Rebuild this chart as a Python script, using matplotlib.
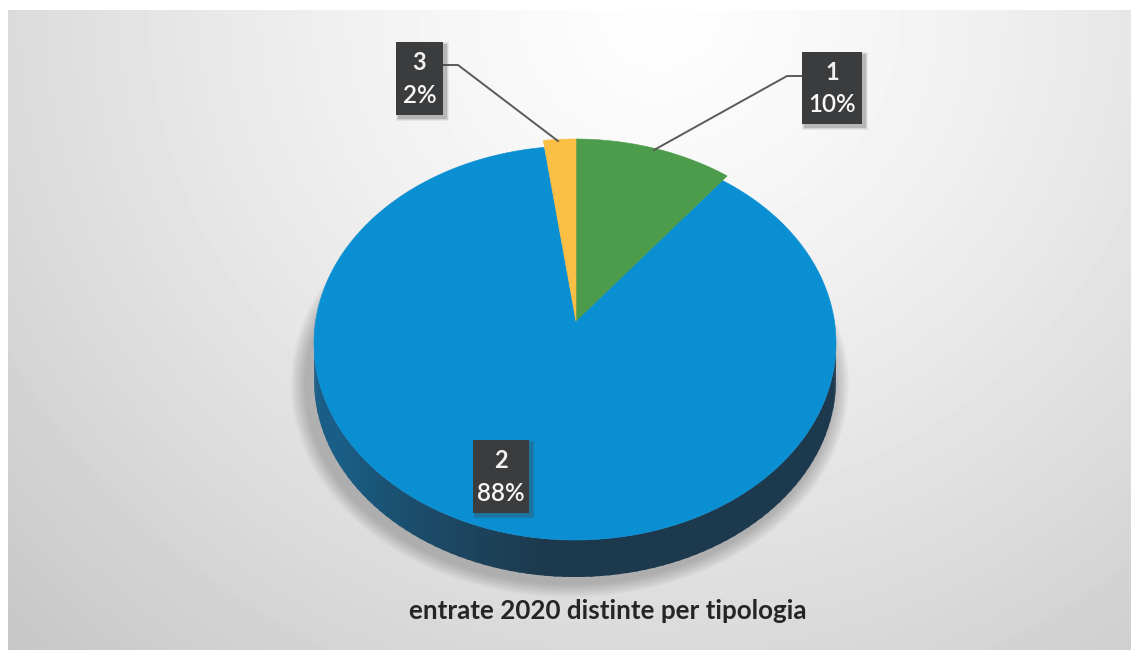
import numpy as np
import matplotlib
matplotlib.use("Agg")
import matplotlib.pyplot as plt
from matplotlib.patches import Rectangle

labels = ["1", "2", "3"]
shares = [10, 88, 2]
colors = ["#4c9c4c", "#0b8fd3", "#fcbf45"]
title = "entrate 2020 distinte per tipologia"

W, H = 1131, 658
fig = plt.figure(figsize=(W/100, H/100), dpi=100, facecolor="white")
ax = fig.add_axes([0, 0, 1, 1])

# background panel: near white at top centre, greyer towards left, right and bottom
ny, nx = 160, 280
yy, xx = np.mgrid[0:1:ny*1j, 0:1:nx*1j]
r = np.sqrt(((xx-0.58)/0.62)**2 + ((yy-0.0)/1.05)**2)
v = np.clip(0.995 - 0.15*r**1.3, 0, 1)
ax.imshow(v, extent=(8, 1131, 650, 10), cmap="gray", vmin=0, vmax=1, aspect="auto",
          interpolation="bilinear", zorder=0)
ax.set_xlim(0, W); ax.set_ylim(H, 0); ax.axis("off")

cx, cy, rx, ry = 575, 343, 261, 197     # outline of the tilted disc
ax0, ay0 = 576, 321                     # apex, displaced by perspective
top_span = 182
depth = 37
lift = 7                                # small slices are pulled out slightly

# soft shadow, low and to the left
for i in range(12):
    g = 1 - i/12
    e = np.linspace(0, 2*np.pi, 200)
    ax.fill(cx-5 + (rx+3+15*g)*np.cos(e), cy+depth+4 + (ry+2+14*g)*np.sin(e),
            color="#555555", alpha=0.03, lw=0, zorder=1)

# side wall
n = 90
for i in range(n):
    a0, a1 = np.pi*i/n, np.pi*(i+1)/n+0.012
    t = np.linspace(a0, a1, 5)
    px = np.r_[cx+rx*np.cos(t), (cx+rx*np.cos(t))[::-1]]
    py = np.r_[cy+ry*np.sin(t), (cy+depth+ry*np.sin(t))[::-1]]
    m = (a0+a1)/2
    f = np.clip((m-1.7)/1.0, 0, 1)
    col = np.array([0.115, 0.225, 0.300])*(1-f) + np.array([0.10, 0.37, 0.53])*f
    ax.fill(px, py, color=col, lw=0, zorder=2)

def rim_point(theta, up):
    """Where the ray from the apex at pie angle theta (clockwise from 12 o'clock) meets the rim."""
    dx, dy = rx*np.sin(theta), -top_span*np.cos(theta)
    ox, oy = (ax0-cx)/rx, (ay0-(cy-up))/ry
    ux, uy = dx/rx, dy/ry
    a = ux*ux+uy*uy; b = 2*(ox*ux+oy*uy); c = ox*ox+oy*oy-1
    s = (-b+np.sqrt(b*b-4*a*c))/(2*a)
    return ax0+s*dx, ay0+s*dy

# top pie slices, clockwise from 12 o'clock; largest drawn first so the pulled slices overlap it
angles = np.cumsum([0] + shares) * 3.6
for idx in (1, 0, 2):
    col = colors[idx]
    up = 0 if idx == 1 else lift
    t = np.radians(np.linspace(angles[idx], angles[idx+1], 300))
    pts = np.array([rim_point(a, up) for a in t])
    ax.fill(np.r_[ax0, pts[:, 0]], np.r_[ay0, pts[:, 1]], color=col, lw=0.4,
            ec=col, zorder=3)

def label(x, y, w, h, l1, l2):
    for k, a in ((6, 0.08), (4, 0.12), (2, 0.2)):
        ax.add_patch(Rectangle((x+1-k/2+2, y+1-k/2+2), w+k, h+k, color="#444444", alpha=a, lw=0, zorder=5))
    ax.add_patch(Rectangle((x, y), w, h, color="#3b3c3e", lw=0, zorder=6))
    ax.text(x+w/2, y+h*0.28, l1, color="#f2f2f2", ha="center", va="center", fontsize=17,
            fontweight="bold", family="Lato", zorder=7)
    ax.text(x+w/2, y+h*0.73, l2, color="#f8f8f8", ha="center", va="center", fontsize=17.5,
            fontweight="semibold", family="Lato", zorder=7)

ax.plot([654, 787, 802], [150, 76, 76], color="#5a5a5a", lw=1.4, zorder=4)
ax.plot([558, 458, 443], [141, 65, 65], color="#5a5a5a", lw=1.4, zorder=4)
label(802, 52, 60, 72, labels[0], f"{shares[0]}%")
label(396, 42, 47, 73, labels[2], f"{shares[2]}%")
label(473, 440, 56, 73, labels[1], f"{shares[1]}%")

ax.text(608, 611, title, color="#252525", ha="center", va="center", fontsize=18.7,
        fontweight="bold", family="Lato", zorder=7)

fig.savefig("out.png", dpi=100)
